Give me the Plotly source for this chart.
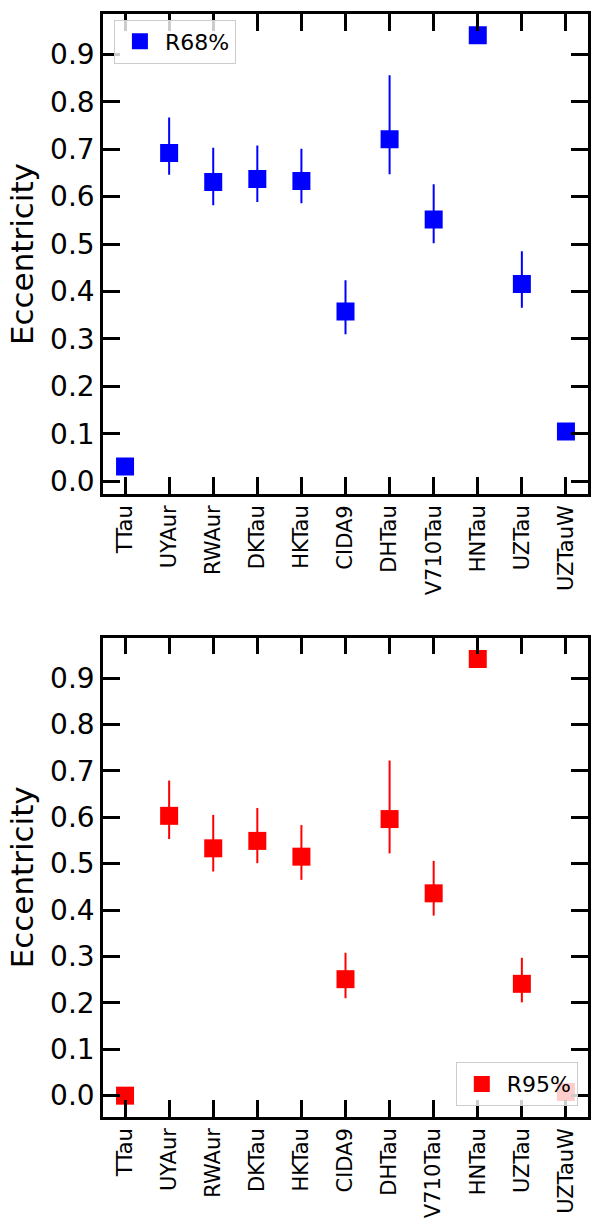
import plotly.graph_objects as go
from plotly.subplots import make_subplots

stars = ["TTau", "UYAur", "RWAur", "DKTau", "HKTau", "CIDA9", "DHTau",
         "V710Tau", "HNTau", "UZTau", "UZTauW"]

ecc_r68 = [0.031, 0.692, 0.631, 0.637, 0.633, 0.358, 0.721, 0.552, 0.940, 0.416, 0.105]
err_up_r68 = [0.0, 0.075, 0.072, 0.071, 0.068, 0.066, 0.135, 0.074, 0.0, 0.069, 0.0]
err_dn_r68 = [0.0, 0.046, 0.049, 0.048, 0.047, 0.048, 0.074, 0.050, 0.0, 0.050, 0.0]

ecc_r95 = [0.000, 0.603, 0.533, 0.549, 0.515, 0.251, 0.596, 0.436, 0.941, 0.241, 0.008]
err_up_r95 = [0.0, 0.076, 0.072, 0.071, 0.068, 0.057, 0.126, 0.070, 0.0, 0.056, 0.0]
err_dn_r95 = [0.0, 0.050, 0.050, 0.048, 0.050, 0.041, 0.074, 0.048, 0.0, 0.040, 0.0]

ytick_vals = [0.0, 0.1, 0.2, 0.3, 0.4, 0.5, 0.6, 0.7, 0.8, 0.9]

FONT = "DejaVu Sans"

fig = make_subplots(rows=2, cols=1, vertical_spacing=0.13)

fig.add_trace(go.Scatter(
    x=stars, y=ecc_r68, mode="markers", name="R68%",
    marker=dict(symbol="square", size=18, color="#0000ff", line=dict(width=0)),
    error_y=dict(type="data", array=err_up_r68, arrayminus=err_dn_r68,
                 symmetric=False, color="#0000ff", thickness=2, width=0),
    legend="legend",
), row=1, col=1)

fig.add_trace(go.Scatter(
    x=stars, y=ecc_r95, mode="markers", name="R95%",
    marker=dict(symbol="square", size=18, color="#ff0000", line=dict(width=0)),
    error_y=dict(type="data", array=err_up_r95, arrayminus=err_dn_r95,
                 symmetric=False, color="#ff0000", thickness=2, width=0),
    legend="legend2",
), row=2, col=1)

axis_common = dict(
    showline=True, linecolor="black", linewidth=2.5, mirror="allticks",
    ticks="inside", ticklen=17, tickwidth=2.5, tickcolor="black",
    showgrid=False, zeroline=False,
)

for r in (1, 2):
    fig.update_xaxes(
        type="category", range=[-0.5, 10.5], tickangle=-90,
        tickfont=dict(family=FONT, size=21, color="black"),
        row=r, col=1, **axis_common)
    fig.update_yaxes(
        tickvals=ytick_vals, tickformat=".1f",
        tickfont=dict(family=FONT, size=28, color="black"),
        title=dict(text="Eccentricity", font=dict(family=FONT, size=31, color="black"),
                   standoff=8),
        row=r, col=1, **axis_common)

fig.update_yaxes(range=[-0.027, 0.985], domain=[0.5647, 1.0], row=1, col=1)
fig.update_yaxes(range=[-0.046, 0.987], domain=[0.0, 0.4346], row=2, col=1)

legend_common = dict(
    bgcolor="rgba(255,255,255,0.8)", bordercolor="#cccccc", borderwidth=1,
    font=dict(family=FONT, size=22, color="black"),
    itemsizing="trace", itemwidth=40,
)

fig.update_layout(
    width=593, height=1220,
    margin=dict(l=103, r=2, t=14, b=94),
    paper_bgcolor="white", plot_bgcolor="white",
    font=dict(family=FONT, color="black"),
    showlegend=True,
    legend=dict(x=0.0225, y=0.995, xanchor="left", yanchor="top", **legend_common),
    legend2=dict(x=0.979, y=0.0099, xanchor="right", yanchor="bottom", **legend_common),
)

fig.write_html(
    "out.html",
    config={"displayModeBar": False},
    post_script="document.body.style.margin='0';"
                "document.documentElement.style.overflow='hidden';",
)
